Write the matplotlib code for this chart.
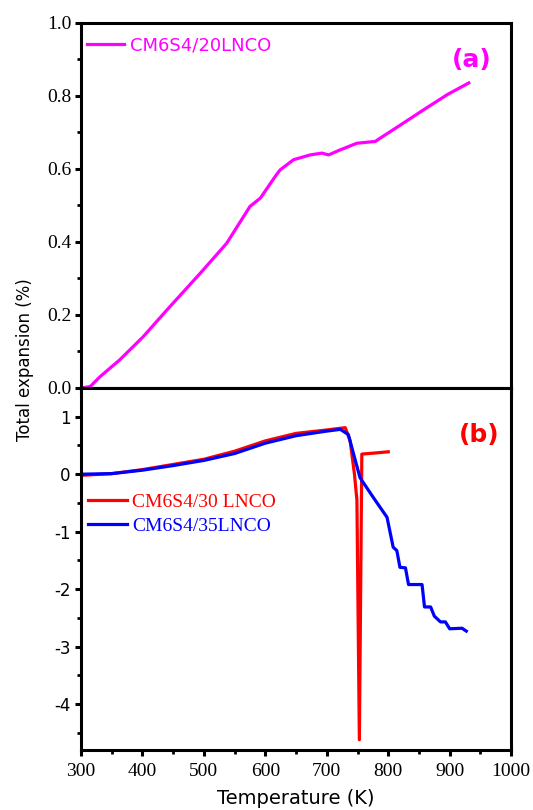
# Dilatometry curves: two stacked panels sharing the temperature axis.

import numpy as np
import matplotlib
matplotlib.use("Agg")
import matplotlib.pyplot as plt
from matplotlib.ticker import MultipleLocator

# --- panel (a): CM6S4/20LNCO ---
t_20 = [301, 315, 331, 363, 401, 440, 494, 537, 575, 592, 616, 624, 646, 673, 692, 703,
        722, 749, 779, 787, 820, 858, 896, 931]
v_20 = [0.0, 0.004, 0.031, 0.077, 0.14, 0.214, 0.314, 0.396, 0.497, 0.52, 0.579, 0.597,
        0.625, 0.638, 0.643, 0.638, 0.652, 0.670, 0.675, 0.684, 0.72, 0.762, 0.803, 0.835]

# --- panel (b): CM6S4/30 LNCO ---
t_30 = [300, 350, 400, 450, 500, 550, 600, 650, 700, 730, 738, 745, 749, 753, 757, 780, 800]
v_30 = [-0.02, 0.01, 0.08, 0.17, 0.26, 0.40, 0.58, 0.71, 0.77, 0.81, 0.58, 0.0, -0.45,
        -4.62, 0.35, 0.37, 0.39]

# --- panel (b): CM6S4/35LNCO ---
t_35 = [300, 350, 400, 450, 500, 550, 600, 650, 700, 722, 735, 754, 776, 798, 808, 814,
        819, 828, 833, 855, 859, 869, 875, 885, 893, 900, 920, 927]
v_35 = [0.0, 0.01, 0.07, 0.15, 0.24, 0.36, 0.54, 0.67, 0.75, 0.78, 0.69, -0.06, -0.41,
        -0.75, -1.27, -1.33, -1.62, -1.63, -1.92, -1.92, -2.31, -2.31, -2.47, -2.57, -2.57,
        -2.69, -2.68, -2.73]

SERIF = "Liberation Serif"
SANS = "DejaVu Sans"

fig = plt.figure(figsize=(5.33, 8.10), dpi=100)
ax1 = fig.add_axes([0.152, 0.521, 0.807, 0.451])
ax2 = fig.add_axes([0.152, 0.074, 0.807, 0.447], sharex=ax1)

for ax in (ax1, ax2):
    for sp in ax.spines.values():
        sp.set_linewidth(2.2)
    ax.xaxis.set_major_locator(MultipleLocator(100))
    ax.xaxis.set_minor_locator(MultipleLocator(50))
    ax.tick_params(which="major", direction="out", length=4.5, width=2.2)
    ax.tick_params(which="minor", direction="out", length=3, width=2.0)

ax1.plot(t_20, v_20, color="#ff00ff", lw=2.3, label="CM6S4/20LNCO")
ax1.set_xlim(300, 1000)
ax1.set_ylim(0, 1.0)
ax1.yaxis.set_major_locator(MultipleLocator(0.2))
ax1.yaxis.set_minor_locator(MultipleLocator(0.1))
ax1.yaxis.set_major_formatter(plt.FormatStrFormatter("%.1f"))
ax1.tick_params(axis="x", labelbottom=False)
ax1.tick_params(axis="y", labelsize=14, pad=2)
for lab in ax1.get_yticklabels():
    lab.set_fontfamily(SERIF)
ax1.legend(loc="upper left", bbox_to_anchor=(-0.025, 1.008), frameon=False,
           handlelength=2.1, handletextpad=0.3, labelcolor="linecolor",
           prop={"family": SANS, "size": 13})
ax1.text(0.909, 0.899, "(a)", transform=ax1.transAxes, color="#ff00ff",
         fontsize=18, fontweight="bold", family=SANS, ha="center", va="center")

ax2.plot(t_30, v_30, color="#ff0000", lw=2.3, label="CM6S4/30 LNCO")
ax2.plot(t_35, v_35, color="#0000ff", lw=2.3, label="CM6S4/35LNCO")
ax2.set_ylim(-4.8, 1.5)
ax2.yaxis.set_major_locator(MultipleLocator(1))
ax2.yaxis.set_minor_locator(MultipleLocator(0.5))
ax2.yaxis.set_major_formatter(plt.FuncFormatter(lambda v, p: f"{v:.0f}"))
ax2.tick_params(axis="y", labelsize=12, pad=3)
ax2.tick_params(axis="x", labelsize=14, pad=5)
for lab in ax2.get_yticklabels():
    lab.set_fontfamily(SANS)
for lab in ax2.get_xticklabels():
    lab.set_fontfamily(SERIF)
ax2.legend(loc="upper left", bbox_to_anchor=(-0.025, 0.757), frameon=False,
           handlelength=2.0, handletextpad=0.3, labelspacing=0.32,
           labelcolor="linecolor", prop={"family": SERIF, "size": 14})
ax2.text(0.926, 0.870, "(b)", transform=ax2.transAxes, color="#ff0000",
         fontsize=18, fontweight="bold", family=SANS, ha="center", va="center")

fig.text(0.555, 0.003, "Temperature (K)", family=SANS, fontsize=14,
         ha="center", va="bottom")
fig.text(0.047, 0.556, "Total expansion (%)", rotation=90, family=SANS, fontsize=12,
         ha="center", va="center")

fig.savefig("out.png", dpi=100)
